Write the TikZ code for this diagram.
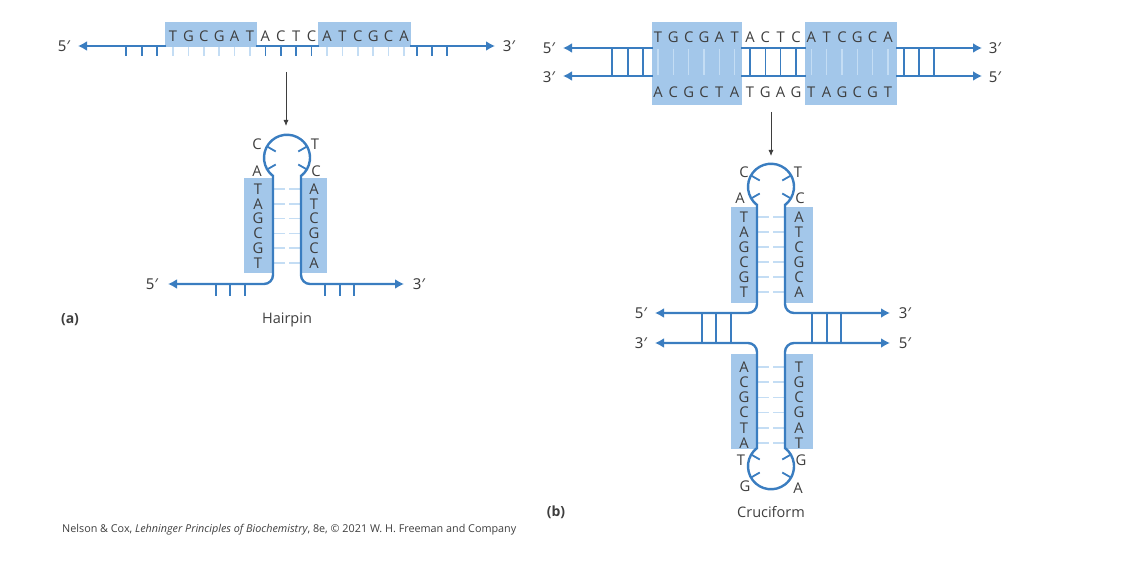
\documentclass[tikz,border=0pt]{standalone}
\usepackage{fontspec}
\setmainfont{Open Sans}
\newfontfamily\primef{Noto Sans}
\usetikzlibrary{arrows.meta}
\definecolor{dblue}{HTML}{3A7DC0}
\definecolor{boxb}{HTML}{A3C7EA}
\definecolor{lblue}{HTML}{C4DDF4}
\definecolor{txt}{HTML}{3E3E3E}
\begin{document}
\begin{tikzpicture}[x=1pt,y=-1pt,
  strand/.style={line width=2.4pt,draw=dblue},
  tip/.style={-{Latex[length=9pt,width=10pt]}},
  ltick/.style={line width=1.6pt,draw=lblue},
  dtick/.style={line width=1.6pt,draw=dblue},
  box/.style={fill=boxb,draw=none},
  base/.style={text=txt,font=\fontsize{14.8}{12}\selectfont,inner sep=0pt},
  lab/.style={text=txt,font=\primef\fontsize{15}{15}\selectfont,inner sep=0pt},
  captxt/.style={text=txt,font=\fontsize{14.5}{14}\selectfont,inner sep=0pt}]
\useasboundingbox (0,0) rectangle (1121,564);
% ================= panel (a) top =================
\fill[box] (165,22) rectangle (257,47);
\fill[box] (318,22) rectangle (411,47);
\foreach \c [count=\i from 0] in {T,G,C,G,A,T,A,C,T,C,A,T,C,G,C,A}{
  \node[base] (a\i) at ({173+15.4*\i},36) {\c};
  \ifnum\i<6 \draw[ltick] ({173+15.4*\i},47) -- ({173+15.4*\i},56);\fi
  \ifnum\i>9 \draw[ltick] ({173+15.4*\i},47) -- ({173+15.4*\i},56);\fi
}
\foreach \i in {6,...,9}{\draw[dtick] ({173+15.4*\i},46) -- ({173+15.4*\i},56);}
\foreach \x in {126,142,157,417,432,447}{\draw[dtick] (\x,46) -- (\x,56);}
\coordinate (aL) at (78,46); \coordinate (aL2) at (166,46);
\coordinate (aR) at (495,46); \coordinate (aR2) at (410,46);
\draw[strand,tip] (aL2) -- (aL);
\draw[strand,tip] (aR2) -- (aR);
\draw[strand] (256,46) -- (319,46);
\node[lab] (a5) at (64,46) {5′};
\node[lab] (a3) at (509,46) {3′};
\coordinate (arA1) at (286,72); \coordinate (arA2) at (286,126);
\draw[line width=0.8pt,draw=txt,-{Latex[length=6pt,width=5pt]}] (arA1) -- (arA2);
% ================= hairpin =================
\fill[box] (244,178) rectangle (273,273);
\fill[box] (301,178) rectangle (327,273);
\foreach \c [count=\i from 0] in {T,A,G,C,G,T}{\node[base] (hl\i) at (258,{189+14.8*\i}) {\c};}
\foreach \c [count=\i from 0] in {A,T,C,G,C,A}{\node[base] (hr\i) at (314,{189+14.8*\i}) {\c};
  \draw[ltick] (274,{189+14.8*\i}) -- (285,{189+14.8*\i});
  \draw[ltick] (289,{189+14.8*\i}) -- (300,{189+14.8*\i});}
\draw[strand] (273,176) arc[start angle=127.5,end angle=412.5,radius=23];
\foreach \a in {-150,-30,150,30}{\draw[strand,line width=1.8pt] (287,158) ++(\a:23) -- ++(\a:-10);}
\draw[strand,tip,rounded corners=9pt] (273,175) -- (273,284) -- (168,284);
\draw[strand,tip,rounded corners=9pt] (301,175) -- (301,284) -- (404,284);
\foreach \x in {216,230,245,325,340,354}{\draw[dtick] (\x,284) -- (\x,296);}
\node[base] (hC) at (257,144) {C};
\node[base] (hT) at (315,144) {T};
\node[base] (hA) at (257,171) {A};
\node[base] (hC2) at (316,171) {C};
\node[lab] (h5) at (152,284) {5′};
\node[lab] (h3) at (419,284) {3′};
\node[captxt] (hp) at (287,320) {Hairpin};
\node[text=txt,font=\bfseries\fontsize{14}{14}\selectfont,inner sep=0pt] (la) at (70,320) {(a)};
% ================= panel (b) top =================
\fill[box] (652,22) rectangle (742,105);
\fill[box] (805,22) rectangle (897,105);
\foreach \c [count=\i from 0] in {T,G,C,G,A,T,A,C,T,C,A,T,C,G,C,A}{
  \node[base] (bt\i) at ({658+15.33*\i},37) {\c};}
\foreach \c [count=\i from 0] in {A,C,G,C,T,A,T,G,A,G,T,A,G,C,G,T}{
  \node[base] (bb\i) at ({658+15.33*\i},92) {\c};
  \ifnum\i<6 \draw[ltick] ({658+15.33*\i},49) -- ({658+15.33*\i},75);\fi
  \ifnum\i>9 \draw[ltick] ({658+15.33*\i},49) -- ({658+15.33*\i},75);\fi}
\foreach \i in {6,...,9}{\draw[dtick] ({658+15.33*\i},48) -- ({658+15.33*\i},76);}
\foreach \x in {612,628,643,904,919,934}{\draw[dtick] (\x,48) -- (\x,76);}
\foreach \y in {48,76}{
  \draw[strand,tip] (653,\y) -- (563,\y);
  \draw[strand,tip] (896,\y) -- (982,\y);
  \draw[strand] (741,\y) -- (806,\y);}
\node[lab] (b5a) at (549,48) {5′};
\node[lab] (b3a) at (549,77) {3′};
\node[lab] (b3b) at (995,48) {3′};
\node[lab] (b5b) at (995,77) {5′};
\coordinate (arB1) at (771,112); \coordinate (arB2) at (771,156);
\draw[line width=0.8pt,draw=txt,-{Latex[length=6pt,width=5pt]}] (arB1) -- (arB2);
% ================= cruciform =================
\fill[box] (731,207) rectangle (757,303);
\fill[box] (785,207) rectangle (813,303);
\fill[box] (731,354) rectangle (757,449);
\fill[box] (785,354) rectangle (813,449);
\foreach \c [count=\i from 0] in {T,A,G,C,G,T}{\node[base] (cl\i) at (744,{217+15*\i}) {\c};}
\foreach \c [count=\i from 0] in {A,T,C,G,C,A}{\node[base] (cr\i) at (799,{217+15*\i}) {\c};
  \draw[ltick] (758,{217+15*\i}) -- (769,{217+15*\i});
  \draw[ltick] (773,{217+15*\i}) -- (784,{217+15*\i});}
\foreach \c [count=\i from 0] in {A,C,G,C,T,A}{\node[base] (dl\i) at (744,{367+15.2*\i}) {\c};}
\foreach \c [count=\i from 0] in {T,G,C,G,A,T}{\node[base] (dr\i) at (799,{367+15.2*\i}) {\c};
  \draw[ltick] (758,{367+15.2*\i}) -- (769,{367+15.2*\i});
  \draw[ltick] (773,{367+15.2*\i}) -- (784,{367+15.2*\i});}
\draw[strand] (757,205) arc[start angle=127.5,end angle=412.5,radius=23];
\foreach \a in {-150,-30,150,30}{\draw[strand,line width=1.8pt] (771,187) ++(\a:23) -- ++(\a:-10);}
\draw[strand] (757,448) arc[start angle=232.5,end angle=-52.5,radius=23];
\foreach \a in {-150,-30,150,30}{\draw[strand,line width=1.8pt] (771,466) ++(\a:23) -- ++(\a:-10);}
\draw[strand,tip,rounded corners=9pt] (757,204) -- (757,313) -- (655,313);
\draw[strand,tip,rounded corners=9pt] (785,204) -- (785,313) -- (890,313);
\draw[strand,tip,rounded corners=9pt] (757,449) -- (757,343) -- (655,343);
\draw[strand,tip,rounded corners=9pt] (785,449) -- (785,343) -- (890,343);
\foreach \x in {702,716,731,812,827,841}{\draw[dtick] (\x,313) -- (\x,343);}
\node[base] (cC) at (744,172) {C};
\node[base] (cT) at (798,172) {T};
\node[base] (cA) at (740,198) {A};
\node[base] (cC2) at (800,198) {C};
\node[base] (dT) at (741,460) {T};
\node[base] (dG) at (801,460) {G};
\node[base] (dG2) at (745,486) {G};
\node[base] (dA) at (798,488) {A};
\node[lab] (c5a) at (641,313) {5′};
\node[lab] (c3a) at (641,343) {3′};
\node[lab] (c3b) at (905,313) {3′};
\node[lab] (c5b) at (905,343) {5′};
\node[captxt] (cf) at (771,512) {Cruciform};
\node[text=txt,font=\bfseries\fontsize{14}{14}\selectfont,inner sep=0pt] (lb) at (556,512) {(b)};
\node[text=txt,font=\fontsize{10.8}{10}\selectfont,inner sep=0pt,anchor=west] (cred) at (62,530) {Nelson \& Cox, \textit{Lehninger Principles of Biochemistry}, 8e, © 2021 W. H. Freeman and Company};
\end{tikzpicture}
\end{document}
